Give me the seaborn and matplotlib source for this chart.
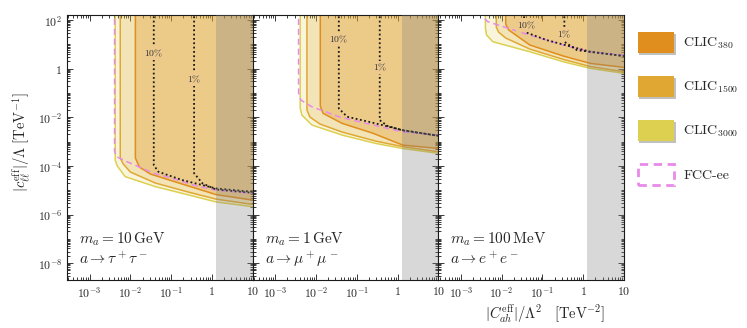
import numpy as np
import seaborn as sns
import matplotlib.pyplot as plt
import matplotlib.patheffects as pe
from matplotlib.patches import Patch
from matplotlib.ticker import LogLocator, NullFormatter, FixedLocator, FixedFormatter

# ---- data ----
# panel 1: m_a = 10 GeV, a -> tau tau
tau_fcc_x = [4.1e-3, 4.1e-3, 4.6e-3, 7.5e-3, 0.038, 0.107, 0.366, 1.26, 10]
tau_fcc_y = [1e3, 4.0e-4, 2.4e-4, 1.6e-4, 4.9e-5, 3.1e-5, 1.6e-5, 1.0e-5, 7.4e-6]
tau_c3000_x = [4.27e-3, 4.27e-3, 4.8e-3, 7.5e-3, 0.0414, 0.275, 1.26, 10]
tau_c3000_y = [1e3, 1.7e-4, 9.8e-5, 3.6e-5, 1.4e-5, 6.3e-6, 3.3e-6, 2.1e-6]
tau_c1500_x = [5.66e-3, 5.66e-3, 6.7e-3, 1.0e-2, 0.0414, 0.27, 1.26, 10]
tau_c1500_y = [1e3, 2.1e-4, 1.2e-4, 5.6e-5, 1.96e-5, 8.3e-6, 4.3e-6, 2.6e-6]
tau_c380_x = [1.33e-2, 1.33e-2, 1.67e-2, 0.0312, 0.107, 1.26, 10]
tau_c380_y = [1e3, 2.1e-4, 8.9e-5, 4.6e-5, 2.4e-5, 6.6e-6, 3.9e-6]
tau_p10_x = [0.0376, 0.0376, 0.049, 0.189, 1.26, 10]
tau_p10_y = [1e3, 1.07e-4, 5.7e-5, 2.6e-5, 1.18e-5, 8.6e-6]
tau_p1_x = [0.366, 0.366, 0.589, 1.26, 10]
tau_p1_y = [1e3, 5.0e-5, 1.9e-5, 1.07e-5, 7.8e-6]
tau_lab = [(0.0376, 4.4), (0.366, 0.37)]

# panel 2: m_a = 1 GeV, a -> mu mu
mu_fcc_x = [3.74e-3, 3.74e-3, 4.27e-3, 7.96e-3, 0.0363, 0.387, 1.33, 10]
mu_fcc_y = [1e3, 9.9e-2, 5.1e-2, 2.7e-2, 1.05e-2, 4.07e-3, 2.5e-3, 1.85e-3]
mu_c3000_x = [4.1e-3, 4.1e-3, 4.5e-3, 7.96e-3, 0.0439, 0.291, 1.33, 10]
mu_c3000_y = [1e3, 2.4e-2, 1.23e-2, 4.8e-3, 1.85e-3, 8.4e-4, 5.2e-4, 3.3e-4]
mu_c1500_x = [6.0e-3, 6.0e-3, 7.1e-3, 0.0126, 0.0439, 0.29, 1.33, 10]
mu_c1500_y = [1e3, 2.0e-2, 1.02e-2, 5.25e-3, 2.46e-3, 1.05e-3, 6.2e-4, 3.8e-4]
mu_c380_x = [0.01277, 0.01277, 0.0149, 0.0439, 0.242, 1.33, 10]
mu_c380_y = [1e3, 2.9e-2, 1.45e-2, 5.6e-3, 2.24e-3, 7.2e-4, 5.2e-4]
mu_p10_x = [0.0363, 0.0363, 0.0582, 0.2, 1.33, 10]
mu_p10_y = [1e3, 2.3e-2, 1.05e-2, 6.5e-3, 2.97e-3, 1.73e-3]
mu_p1_x = [0.366, 0.366, 0.566, 1.33, 10]
mu_p1_y = [1e3, 7.6e-3, 4.4e-3, 2.9e-3, 1.73e-3]
mu_lab = [(0.0363, 16), (0.37, 1.13)]

# panel 3: m_a = 100 MeV, a -> e e
e_fcc_x = [3.8e-3, 3.8e-3, 4.5e-3, 6.1e-3, 0.0407, 0.327, 1.49, 10]
e_fcc_y = [1e3, 117, 87, 73, 26.4, 9.4, 4.96, 3.63]
e_c3000_x = [4.0e-3, 4.0e-3, 4.27e-3, 6.1e-3, 0.049, 0.327, 1.49, 10]
e_c3000_y = [1e3, 47, 24, 12.8, 4.96, 1.92, 1.03, 0.64]
e_c1500_x = [7.4e-3, 7.4e-3, 8.4e-3, 0.0126, 0.049, 0.327, 1.49, 10]
e_c1500_y = [1e3, 51, 32, 18.2, 6.4, 2.4, 1.22, 0.745]
e_c380_x = [0.0126, 0.0126, 0.0149, 0.049, 0.327, 1.49, 10]
e_c380_y = [1e3, 68, 39, 9.4, 3.3, 1.65, 1.13]
e_p10_x = [0.0356, 0.0356, 0.044, 0.127, 1.49, 10]
e_p10_y = [1e3, 39, 29, 15, 4.96, 3.3]
e_p1_x = [0.345, 0.345, 0.70, 10]
e_p1_y = [1e3, 12.8, 5.8, 3.3]
e_lab = [(0.041, 62), (0.345, 26)]

mass_labels = [r'$m_a = 10\,\mathrm{GeV}$', r'$m_a = 1\,\mathrm{GeV}$', r'$m_a = 100\,\mathrm{MeV}$']
decay_labels = [r'$a \to \tau^+\tau^-$', r'$a \to \mu^+\mu^-$', r'$a \to e^+e^-$']
pct_labels = [r'$10\%$', r'$1\%$']
gray_start = 1.26

xticks = [1e-3, 1e-2, 1e-1, 1, 10]
xticklabels = [r'$10^{-3}$', r'$10^{-2}$', r'$10^{-1}$', r'$1$', r'$10$']
yticks = [1e-8, 1e-6, 1e-4, 1e-2, 1, 1e2]
yticklabels = [r'$10^{-8}$', r'$10^{-6}$', r'$10^{-4}$', r'$10^{-2}$', r'$1$', r'$10^{2}$']

C380 = '#e08e1e'
C1500 = '#e0a832'
C3000 = '#ddd050'
FCC = '#e88ae8'
fills = [('c3000', C3000, 0.2), ('c1500', C1500, 0.22), ('c380', C380, 0.3)]

panels = [
    dict(fcc=(tau_fcc_x, tau_fcc_y), c3000=(tau_c3000_x, tau_c3000_y), c1500=(tau_c1500_x, tau_c1500_y),
         c380=(tau_c380_x, tau_c380_y), p10=(tau_p10_x, tau_p10_y), p1=(tau_p1_x, tau_p1_y), lab=tau_lab),
    dict(fcc=(mu_fcc_x, mu_fcc_y), c3000=(mu_c3000_x, mu_c3000_y), c1500=(mu_c1500_x, mu_c1500_y),
         c380=(mu_c380_x, mu_c380_y), p10=(mu_p10_x, mu_p10_y), p1=(mu_p1_x, mu_p1_y), lab=mu_lab),
    dict(fcc=(e_fcc_x, e_fcc_y), c3000=(e_c3000_x, e_c3000_y), c1500=(e_c1500_x, e_c1500_y),
         c380=(e_c380_x, e_c380_y), p10=(e_p10_x, e_p10_y), p1=(e_p1_x, e_p1_y), lab=e_lab),
]

sns.set_theme(style="ticks")
plt.rcParams['font.family'] = 'serif'
plt.rcParams['font.serif'] = ['cmr10', 'DejaVu Serif']
plt.rcParams['mathtext.fontset'] = 'cm'
plt.rcParams['axes.formatter.use_mathtext'] = True

fig, axes = plt.subplots(1, 3, figsize=(7.47, 3.28), dpi=100, sharey=True)
fig.subplots_adjust(left=0.0897, right=0.8353, top=0.954, bottom=0.146, wspace=0)

for i, (ax, p) in enumerate(zip(axes, panels)):
    ax.set_xscale('log')
    ax.set_yscale('log')

    # filled CLIC regions
    for key, col, a in fills:
        cx, cy = p[key]
        ax.fill(cx + [cx[-1]], cy + [cy[0]], color=col, alpha=a, lw=0, zorder=1)
    for key, col, a in fills:
        cx, cy = p[key]
        sns.lineplot(x=cx, y=cy, sort=False, estimator=None, color=col, lw=1.1, ax=ax, zorder=2)

    # FCC-ee
    fx, fy = p['fcc']
    sns.lineplot(x=fx, y=fy, sort=False, estimator=None, color=FCC, lw=1.1,
                 linestyle=(0, (4, 2.5)), ax=ax, zorder=3)

    # precision contours
    for key in ['p10', 'p1']:
        dx, dy = p[key]
        sns.lineplot(x=dx, y=dy, sort=False, estimator=None, color='k', lw=1.3,
                     linestyle=(0, (1, 1.4)), ax=ax, zorder=3)
    for (lx, ly), txt in zip(p['lab'], pct_labels):
        ax.text(lx, ly, txt, fontsize=7, ha='center', va='center', color='#333333',
                bbox=dict(fc='#edca8c', ec='none', pad=0.8), zorder=3.5)

    ax.axvspan(gray_start, 20, color='0.5', alpha=0.3, lw=0, zorder=4)

    ax.text(0.065, 0.155, mass_labels[i], transform=ax.transAxes, fontsize=11, va='center', zorder=5)
    ax.text(0.065, 0.079, decay_labels[i], transform=ax.transAxes, fontsize=11, va='center', zorder=5)

    ax.set_xlim(2.8e-4, 10)
    ax.set_ylim(2e-9, 160)
    ax.xaxis.set_major_locator(FixedLocator(xticks))
    ax.xaxis.set_major_formatter(FixedFormatter(xticklabels))
    ax.xaxis.set_minor_locator(LogLocator(base=10, subs=np.arange(1, 10), numticks=50))
    ax.xaxis.set_minor_formatter(NullFormatter())
    ax.yaxis.set_major_locator(FixedLocator(yticks))
    ax.yaxis.set_major_formatter(FixedFormatter(yticklabels))
    ax.yaxis.set_minor_locator(LogLocator(base=10, subs=np.arange(1, 10), numticks=50))
    ax.yaxis.set_minor_formatter(NullFormatter())
    ax.tick_params(which='both', direction='in', top=True, right=True, labelsize=8.5, width=0.6, color='k')
    ax.tick_params(which='major', length=4)
    ax.tick_params(which='minor', length=2)
    for s in ax.spines.values():
        s.set_linewidth(0.8)
        s.set_color('k')
    ax.set_xlabel('')
    ax.set_ylabel('')

axes[0].set_ylabel(r'$|c_{\ell\ell}^{\mathrm{eff}}|/\Lambda\ [\mathrm{TeV}^{-1}]$', fontsize=10.5, labelpad=2)
axes[0].yaxis.set_label_coords(-0.185, 0.52)
axes[2].set_xlabel(r'$|C_{ah}^{\mathrm{eff}}|/\Lambda^2\quad[\mathrm{TeV}^{-2}]$', fontsize=10.5)
axes[2].xaxis.set_label_coords(0.573, -0.085)

handles = [
    Patch(facecolor=C380, edgecolor='none', label=r'CLIC$_{380}$'),
    Patch(facecolor=C1500, edgecolor='none', label=r'CLIC$_{1500}$'),
    Patch(facecolor=C3000, edgecolor='none', label=r'CLIC$_{3000}$'),
    Patch(facecolor='none', edgecolor=FCC, linestyle=(0, (3, 2)), lw=2, label='FCC-ee'),
]
leg = fig.legend(handles=handles, loc='upper left', bbox_to_anchor=(638 / 747, 1 - 32 / 328),
                 frameon=False, fontsize=10, handlelength=2.6, handleheight=1.95,
                 labelspacing=1.65, handletextpad=0.65, borderpad=0, borderaxespad=0)
for h in leg.legend_handles[:3]:
    h.set_path_effects([pe.withSimplePatchShadow(offset=(1, -1.5), shadow_rgbFace='0.3', alpha=0.35), pe.Normal()])

plt.savefig('out.png', dpi=100)
